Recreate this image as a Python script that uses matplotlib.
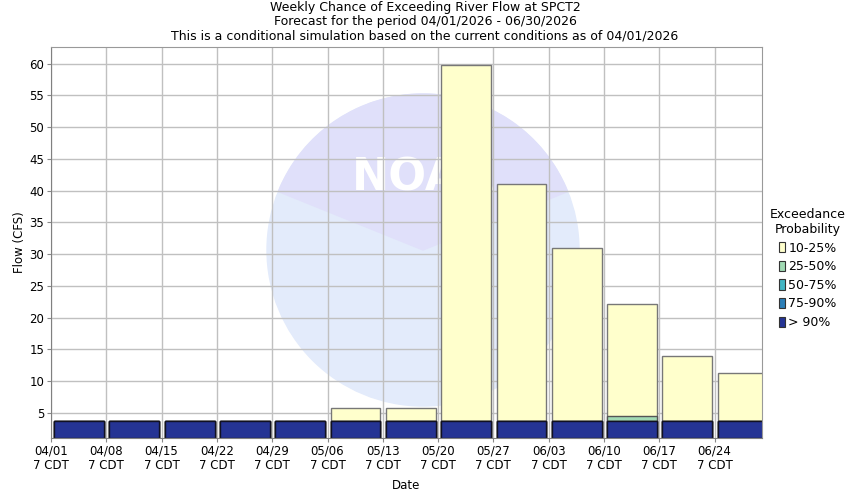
import matplotlib
matplotlib.use('Agg')
import matplotlib.pyplot as plt
from matplotlib.patches import Patch, Circle, Wedge

# weekly forecast, values in CFS
weeks = ['04/01', '04/08', '04/15', '04/22', '04/29', '05/06', '05/13',
         '05/20', '05/27', '06/03', '06/10', '06/17', '06/24']
p10_25 = [3.75, 3.75, 3.75, 3.75, 3.75, 5.8, 5.8, 59.7, 41.1, 31.0, 22.1, 14.0, 11.3]
p25_50 = [3.75, 3.75, 3.75, 3.75, 3.75, 3.75, 3.75, 3.75, 3.75, 3.75, 4.5, 3.75, 3.75]
p50_75 = [3.75, 3.75, 3.75, 3.75, 3.75, 3.75, 3.75, 3.75, 3.75, 3.75, 3.75, 3.75, 3.75]
p75_90 = [3.75, 3.75, 3.75, 3.75, 3.75, 3.75, 3.75, 3.75, 3.75, 3.75, 3.75, 3.75, 3.75]
p90 = [3.75, 3.75, 3.75, 3.75, 3.75, 3.75, 3.75, 3.75, 3.75, 3.75, 3.75, 3.75, 3.75]

series = [('10-25%', p10_25, '#ffffcc', '#777777'),
          ('25-50%', p25_50, '#a1dab4', '#555555'),
          ('50-75%', p50_75, '#41b6c4', '#333333'),
          ('75-90%', p75_90, '#2c7fb8', '#222222'),
          ('> 90%', p90, '#253494', '#111122')]

ymin, ymax = 1.05, 62.6

fig = plt.figure(figsize=(8.5, 5), dpi=100)
ax = fig.add_axes([51/850, 1-438/500, 711/850, 391/500])

# faint NOAA-style watermark
c = (4.23, 2.5)
ax.add_patch(Circle(c, 1.56, transform=fig.dpi_scale_trans, color='#e3ebfb', zorder=0.1))
ax.add_patch(Wedge(c, 1.56, 22, 158, transform=fig.dpi_scale_trans, color='#e0e0fa', zorder=0.15))
ax.text(4.23, 3.22, 'NOAA', transform=fig.dpi_scale_trans, ha='center', va='center',
        fontsize=32, fontweight='bold', color='white', zorder=0.2)

x = [i * 7 for i in range(len(weeks))]
for label, vals, fc, ec in series:
    heights = [v - ymin for v in vals]
    ax.bar([xi + 0.4 for xi in x], heights, width=6.3, bottom=ymin, align='edge',
           color=fc, edgecolor=ec, linewidth=1.0, zorder=2)

ax.set_xlim(0, 90)
ax.set_ylim(ymin, ymax)
ax.set_xticks(x)
ax.set_xticklabels([w + '\n7 CDT' for w in weeks], fontsize=8.5, linespacing=1.15)
ax.set_yticks(range(5, 61, 5))
ax.tick_params(axis='y', labelsize=8.5, length=3, color='#888888', pad=2)
ax.tick_params(axis='x', length=3, color='#888888', pad=2)
ax.grid(True, color='#c0c0c0', linewidth=1.0)
ax.set_axisbelow(True)
for s in ax.spines.values():
    s.set_color('#999999')
ax.spines['left'].set_color('#808080')
ax.spines['bottom'].set_color('#808080')

ax.set_xlabel('Date', fontsize=8.5, labelpad=5)
ax.set_ylabel('Flow (CFS)', fontsize=8.5, labelpad=2)

fig.text(0.5, 1-8/500, 'Weekly Chance of Exceeding River Flow at SPCT2', ha='center', va='center', fontsize=9)
fig.text(0.5, 1-22/500, 'Forecast for the period 04/01/2026 - 06/30/2026', ha='center', va='center', fontsize=9)
fig.text(0.5, 1-36/500, 'This is a conditional simulation based on the current conditions as of 04/01/2026',
         ha='center', va='center', fontsize=9)

handles = [Patch(facecolor=fc, edgecolor='#333333', linewidth=0.8) for _, _, fc, _ in series]
labels = [s[0] for s in series]
leg = fig.legend(handles, labels, loc='upper left', bbox_to_anchor=(770/850, 1-208/500),
                 title='Exceedance\nProbability', frameon=False, fontsize=9, title_fontsize=9,
                 handlelength=0.45, handleheight=0.9, handletextpad=0.3, labelspacing=0.45,
                 borderaxespad=0, borderpad=0)
leg.get_title().set_multialignment('center')

fig.savefig('out.png', dpi=100)
